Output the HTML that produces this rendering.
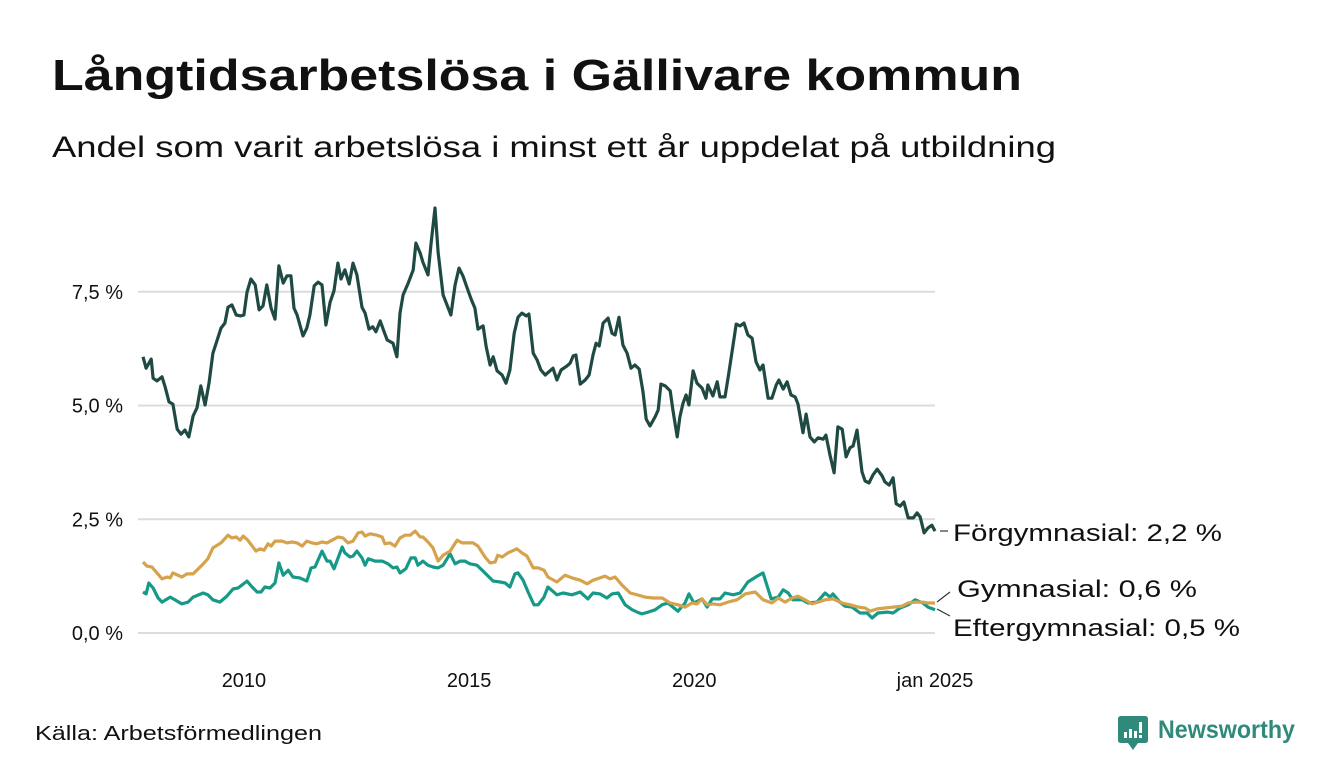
<!DOCTYPE html>
<html><head><meta charset="utf-8"><style>
html,body{margin:0;padding:0;background:#fff;}
svg{display:block;font-family:"Liberation Sans",sans-serif;}
</style></head><body>
<svg width="1340" height="780" viewBox="0 0 1340 780">
<text x="52" y="90" font-size="44" font-weight="bold" fill="#111" textLength="970" lengthAdjust="spacingAndGlyphs">Långtidsarbetslösa i Gällivare kommun</text>
<text x="52" y="157" font-size="30" fill="#111" textLength="1004" lengthAdjust="spacingAndGlyphs">Andel som varit arbetslösa i minst ett år uppdelat på utbildning</text>
<g id="grid"></g>
<g id="yaxis"></g>
<g id="xaxis"></g>
<g id="series"></g>
<g>
<line x1="940" y1="531" x2="948" y2="531" stroke="#333" stroke-width="1.2"/>
<line x1="937" y1="602" x2="950" y2="592" stroke="#333" stroke-width="1.2"/>
<line x1="937" y1="609" x2="950" y2="616" stroke="#333" stroke-width="1.2"/>
<text x="953" y="541" font-size="24" fill="#111" textLength="269" lengthAdjust="spacingAndGlyphs">Förgymnasial: 2,2 %</text>
<text x="957" y="597" font-size="24" fill="#111" textLength="240" lengthAdjust="spacingAndGlyphs">Gymnasial: 0,6 %</text>
<text x="953" y="636" font-size="24" fill="#111" textLength="287" lengthAdjust="spacingAndGlyphs">Eftergymnasial: 0,5 %</text>
</g>
<text x="35" y="740" font-size="20" fill="#111" textLength="287" lengthAdjust="spacingAndGlyphs">Källa: Arbetsförmedlingen</text>
<g>
<path d="M1121 716 H1145 Q1148 716 1148 719 V740 Q1148 743 1145 743 H1138 L1133 750 L1128 743 H1121 Q1118 743 1118 740 V719 Q1118 716 1121 716 Z" fill="#2f8a7c"/>
<rect x="1124" y="732" width="3" height="6" fill="#fff"/>
<rect x="1129" y="729" width="3" height="9" fill="#fff"/>
<rect x="1134" y="731" width="3" height="7" fill="#fff"/>
<rect x="1139" y="722" width="3" height="11" fill="#fff"/>
<rect x="1139" y="735" width="3" height="3" fill="#fff"/>
<text x="1158" y="738" font-size="25" font-weight="bold" fill="#2f8a7c" textLength="137" lengthAdjust="spacingAndGlyphs">Newsworthy</text>
</g>
</svg>
<script>
// months since Jan 2008 and values (%)
const darkMonths=[0,0.8,2.1,2.6,3.6,4.9,5.7,6.7,7.7,8.8,9.8,10.8,11.8,12.9,13.9,14.9,16,17,18,19.1,20.1,21.1,21.9,22.9,24,25.2,26,26.8,27.8,28.9,29.9,30.9,31.9,33,34,35,36.1,37.1,38.1,38.9,39.7,41.2,42.2,43,44.1,45.1,46.1,47.1,48.2,49.2,50.2,51,52,53.1,54.1,55.1,56.4,57.2,58.2,59.2,60,61.1,62.1,62.9,64.4,65.4,66.2,67,68.3,69.6,70.3,71.4,72.1,73.4,74.2,75.2,76,77.3,78.3,79.3,80.4,81.4,82.4,83.5,84.5,85.5,86.3,87.6,88.4,89.4,90.2,91.2,92.5,93.5,94.5,95.6,96.6,97.6,98.7,99.4,100.5,101.5,102.5,103.6,105.6,106.6,107.7,109.2,110,110.8,111.5,112.6,113.9,114.9,115.9,116.7,117.5,118.5,119.8,120.8,121.6,122.6,123.6,124.7,125.7,126.7,127.8,128.8,129.6,130.6,131.9,132.7,133.4,134.5,135.8,136.5,137.6,138.3,139.1,139.9,140.6,141.7,142.7,144,145,145.5,146.8,147.9,148.6,149.9,150.9,152.8,153.8,154.8,155.8,156.9,157.9,158.9,159.7,161,162,163.1,163.8,164.9,165.9,166.9,168,168.7,170,170.8,171.8,172.9,173.9,175.2,175.9,177,178,179,180.1,181.1,182.1,182.9,183.9,185.2,186,187,188,189.1,190.4,191.1,192.2,193.2,194,195,196,197.1,198.4,199.4,200.2,201.2,202.2,203.2,204];
const darkValues=[6.07,5.82,6.02,5.6,5.54,5.63,5.41,5.08,5.03,4.48,4.37,4.46,4.31,4.77,4.95,5.43,5.01,5.49,6.15,6.44,6.7,6.81,7.16,7.21,6.99,6.97,6.99,7.49,7.78,7.65,7.1,7.19,7.65,7.14,6.9,8.07,7.69,7.85,7.85,7.14,6.99,6.53,6.7,6.99,7.63,7.71,7.65,6.77,7.27,7.52,8.13,7.78,7.98,7.67,8.13,7.87,7.16,7.03,6.68,6.73,6.62,6.86,6.62,6.44,6.37,6.07,7.03,7.43,7.69,7.98,8.57,8.35,8.15,7.87,8.57,9.34,8.37,7.43,7.21,6.99,7.65,8.02,7.85,7.58,7.34,7.14,6.68,6.75,6.29,5.89,6.07,5.76,5.67,5.49,5.78,6.59,6.94,7.03,6.97,7.01,6.15,6.0,5.78,5.67,5.82,5.56,5.78,5.87,5.93,6.09,6.11,5.47,5.56,5.67,6.11,6.37,6.31,6.81,6.92,6.59,6.55,6.94,6.33,6.15,5.82,5.89,5.8,5.3,4.7,4.55,4.75,4.9,5.47,5.43,5.32,4.9,4.31,4.75,5.05,5.23,5.01,5.76,5.49,5.38,5.16,5.45,5.21,5.52,5.19,5.19,5.71,6.79,6.75,6.81,6.55,6.48,5.96,5.78,5.89,5.16,5.16,5.45,5.56,5.36,5.52,5.23,5.19,5.03,4.4,4.81,4.31,4.2,4.29,4.26,4.35,3.89,3.52,4.53,4.48,3.87,4.07,4.11,4.46,3.54,3.34,3.3,3.47,3.6,3.45,3.32,3.25,3.41,2.84,2.79,2.88,2.53,2.53,2.64,2.55,2.2,2.31,2.37,2.24];
const goldMonths=[0,1,2.3,3.6,4.9,6.2,7,7.7,10,11.3,12.9,15.2,16.7,18,20.1,21.9,22.9,24,25,25.8,27,29.1,30.1,31.2,32.2,33,34,35.8,37.1,38.4,39.7,41,42.2,43.5,44.8,46.1,47.4,48.7,50.2,51.5,52.8,54.1,55.4,56.4,57.2,58.5,60.3,61.6,62.3,63.6,64.9,66.2,67.5,68.8,70.1,71.4,72.1,73.4,74.7,76,77.3,79.1,80.9,82.2,83.5,85,86.3,88.1,89.4,90.7,91.4,92.5,94,96.3,97.6,98.9,100.5,101.8,103.3,104.3,106.6,108.7,110.5,112.6,114.4,115.9,117.7,119,120.3,121.6,123.4,125.5,127.3,129.3,131.4,133.7,135.8,137.8,139.6,141.4,142.7,144,145.3,146.8,148.6,150.7,153,155.1,157.7,159.7,162,163.6,165.4,167.2,168.7,170.5,172.3,173.9,175.7,177.7,180.1,182.1,184.2,186,187.3,189.1,191.1,193.2,195.5,197.1,198.9,200.7,202.2,204];
const goldValues=[1.56,1.47,1.45,1.32,1.19,1.23,1.21,1.32,1.23,1.3,1.3,1.49,1.63,1.87,1.98,2.15,2.09,2.11,2.04,2.13,2.04,1.8,1.85,1.82,1.96,1.91,2.02,2.02,1.98,2.0,1.98,1.91,2.02,1.98,1.96,2.0,1.98,2.04,2.11,2.09,1.98,2.02,2.2,2.22,2.13,2.18,2.15,2.11,1.96,1.98,1.91,2.09,2.15,2.15,2.24,2.11,2.11,2.0,1.87,1.58,1.71,1.8,2.04,1.98,1.98,1.98,1.91,1.67,1.54,1.56,1.71,1.67,1.76,1.85,1.76,1.69,1.43,1.43,1.38,1.23,1.12,1.27,1.21,1.16,1.08,1.16,1.21,1.25,1.19,1.23,1.05,0.88,0.84,0.79,0.77,0.77,0.66,0.62,0.57,0.66,0.64,0.75,0.62,0.64,0.62,0.68,0.73,0.86,0.9,0.73,0.66,0.77,0.68,0.77,0.81,0.73,0.64,0.68,0.73,0.75,0.66,0.62,0.57,0.55,0.48,0.53,0.55,0.57,0.59,0.66,0.68,0.68,0.66,0.66];
const tealMonths=[0,0.8,1.5,2.6,3.9,4.9,7,8.2,10,11.6,12.9,15.5,16.7,18,19.8,21.6,23.2,24.5,26.8,28.1,29.4,30.4,31.4,32.7,34,35,36.1,37.4,38.6,40.4,42.2,43.3,44.3,46.1,47.4,48.2,49.2,51.3,52,53.3,54.1,55.1,56.4,57.2,58,59.8,61.6,63.1,64.4,65.4,66.2,67.7,69,70.1,70.8,72.1,73.4,74.7,76,77.3,79.1,80.4,81.7,82.9,84.2,86,87.6,88.9,90.2,92,93.3,94.5,95.8,96.6,97.9,99.2,100.7,101.8,103.3,104.3,106.6,108.2,110.5,112.6,114.6,115.9,117.7,119.5,120.8,122.4,124.2,126,127.3,128.5,130.1,131.9,133.7,135.2,137.8,139.6,140.6,141.9,144,145.3,146.6,148.6,149.9,152,153.8,155.8,158.2,159.7,161.8,163.6,164.9,166.2,167.4,169.8,171.3,173.6,175.7,177,177.7,179.5,180.8,182.6,184.7,186.5,187.8,189.3,191.7,193.2,195,197.1,198.9,200.9,202.2,204];
const tealValues=[0.9,0.86,1.1,0.99,0.77,0.68,0.79,0.73,0.64,0.68,0.79,0.88,0.84,0.73,0.68,0.81,0.97,0.99,1.14,1.01,0.9,0.9,1.01,0.99,1.1,1.54,1.27,1.38,1.23,1.21,1.14,1.43,1.45,1.8,1.58,1.58,1.41,1.89,1.76,1.67,1.69,1.8,1.65,1.49,1.63,1.58,1.58,1.52,1.43,1.45,1.32,1.41,1.65,1.65,1.49,1.58,1.49,1.45,1.43,1.49,1.74,1.52,1.58,1.58,1.52,1.49,1.36,1.25,1.14,1.12,1.1,1.01,1.3,1.32,1.16,0.9,0.62,0.62,0.79,1.01,0.84,0.88,0.84,0.9,0.75,0.88,0.86,0.77,0.86,0.88,0.62,0.51,0.46,0.42,0.46,0.51,0.62,0.66,0.48,0.66,0.86,0.66,0.75,0.57,0.75,0.75,0.88,0.84,0.88,1.12,1.25,1.32,0.75,0.79,0.95,0.88,0.73,0.73,0.66,0.68,0.88,0.79,0.86,0.68,0.59,0.57,0.44,0.44,0.33,0.44,0.46,0.44,0.55,0.62,0.73,0.66,0.57,0.51];
const yTicks=[0,2.5,5,7.5];
const yTickLabels=["0,0 %","2,5 %","5,0 %","7,5 %"];
const xTickMonths=[26,84,142,204];
const xTickLabels=["2010","2015","2020","jan 2025"];

const NS="http://www.w3.org/2000/svg";
function xs(m){return 143+m*(792/204);}
function ys(v){return 633-v*45.5;}
const grid=document.getElementById('grid'),yax=document.getElementById('yaxis'),xax=document.getElementById('xaxis'),ser=document.getElementById('series');
yTicks.forEach((t,i)=>{
  const l=document.createElementNS(NS,'line');
  l.setAttribute('x1',138);l.setAttribute('x2',935);
  l.setAttribute('y1',ys(t));l.setAttribute('y2',ys(t));
  l.setAttribute('stroke','#dcdcdc');l.setAttribute('stroke-width','2');
  
  
  grid.appendChild(l);
  const tx=document.createElementNS(NS,'text');
  tx.setAttribute('x',123);tx.setAttribute('y',ys(t)+7);
  tx.setAttribute('text-anchor','end');tx.setAttribute('font-size','20');tx.setAttribute('fill','#111');
  tx.textContent=yTickLabels[i];
  
  
  yax.appendChild(tx);
});
xTickMonths.forEach((m,i)=>{
  const tx=document.createElementNS(NS,'text');
  tx.setAttribute('x',xs(m));tx.setAttribute('y',687);
  tx.setAttribute('text-anchor','middle');tx.setAttribute('font-size','20');tx.setAttribute('fill','#111');
  tx.textContent=xTickLabels[i];
  
  
  xax.appendChild(tx);
});
function drawLine(ms,vs,color,name){
  const p=document.createElementNS(NS,'path');
  let d='';
  ms.forEach((m,i)=>{d+=(i?'L':'M')+xs(m).toFixed(1)+' '+ys(vs[i]).toFixed(1);});
  p.setAttribute('d',d);p.setAttribute('fill','none');p.setAttribute('stroke',color);
  p.setAttribute('stroke-width','3.2');p.setAttribute('stroke-linejoin','round');
  
  
  ser.appendChild(p);
}
drawLine(tealMonths,tealValues,'#169a87','line-eftergymnasial');
drawLine(goldMonths,goldValues,'#d6a24c','line-gymnasial');
drawLine(darkMonths,darkValues,'#1f4a43','line-forgymnasial');
</script>
</body></html>
